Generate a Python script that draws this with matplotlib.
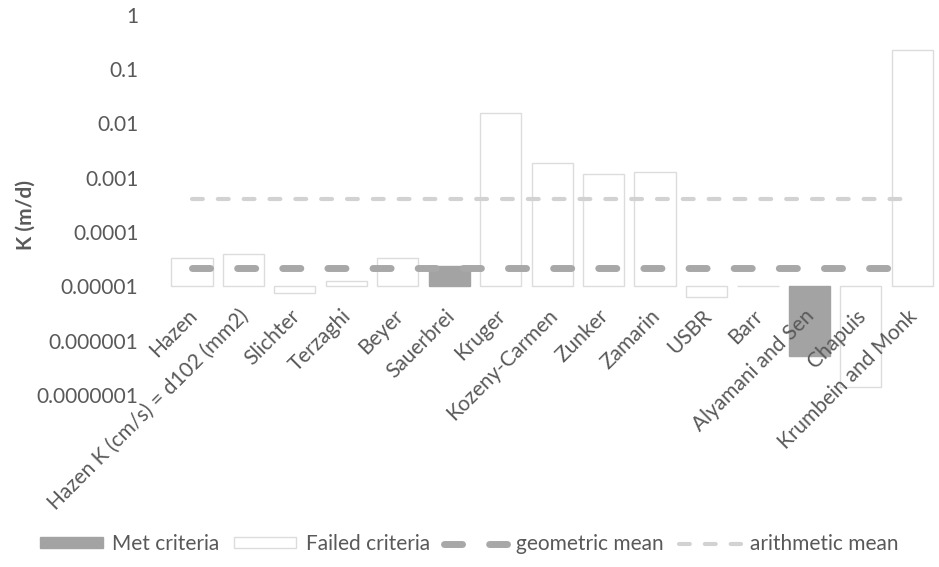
import matplotlib
matplotlib.use("Agg")
import matplotlib.pyplot as plt
import matplotlib.patches as patches
from matplotlib.lines import Line2D
import numpy as np

plt.rcParams['font.family'] = ['Lato', 'DejaVu Sans']

methods = ["Hazen", "Hazen K (cm/s) = d102 (mm2)", "Slichter", "Terzaghi", "Beyer",
           "Sauerbrei", "Kruger", "Kozeny-Carmen", "Zunker", "Zamarin", "USBR", "Barr",
           "Alyamani and Sen", "Chapuis", "Krumbein and Monk"]
k_values = [3.4e-5, 4.0e-5, 7.6e-6, 1.26e-5, 3.4e-5, 2.4e-5, 0.0158, 0.00188,
            0.00118, 0.00129, 6.4e-6, 1.0e-5, 5.2e-7, 1.4e-7, 0.22]
met = [False, False, False, False, False, True, False, False,
       False, False, False, False, True, False, False]
geo_mean = 2.2e-5
arith_mean = 4.1e-4
base = 1e-5

tick_vals = [1e-7, 1e-6, 1e-5, 1e-4, 1e-3, 1e-2, 1e-1, 1]
tick_labels = ["0.0000001", "0.000001", "0.00001", "0.0001", "0.001", "0.01", "0.1", "1"]

txt = "#595959"
met_col = "#a3a3a3"
fail_edge = "#dcdcdc"
fs = 15

fig = plt.figure(figsize=(9.39, 5.67), dpi=100)
ax = fig.add_axes([0.177, 0.303, 0.822, 0.671])

x = np.arange(len(methods))
heights = [v - base for v in k_values]
colors = [met_col if m else "white" for m in met]
edges = [met_col if m else fail_edge for m in met]
ax.bar(x, heights, bottom=base, width=0.8, color=colors, edgecolor=edges, linewidth=1.0, zorder=2)

ax.plot(x, [geo_mean] * len(x), color="#a8a8a8", lw=5, dashes=(2.6, 3.9),
        dash_capstyle='round', zorder=3)
ax.plot(x, [arith_mean] * len(x), color="#d2d2d2", lw=3, dashes=(2.6, 3.6),
        dash_capstyle='round', zorder=3)

ax.set_yscale('log')
ax.set_ylim(1e-7, 1)
ax.set_xlim(-0.5, len(methods) - 0.5)
ax.set_yticks(tick_vals)
ax.set_yticklabels(tick_labels, fontsize=fs, color=txt)
ax.minorticks_off()
ax.tick_params(axis='y', length=0, pad=20)
ax.set_xticks([])

# category labels hang off the 0.00001 crossing
for i, name in enumerate(methods):
    ax.text(i - 0.1, 4.4e-6, name, rotation=45, ha='right', va='top',
            rotation_mode='anchor', fontsize=fs, color=txt)

for s in ax.spines.values():
    s.set_visible(False)

fig.text(0.027, 0.62, "K (m/d)", rotation=90, fontsize=fs, fontweight='bold',
         color=txt, ha='center', va='center')

handles = [
    patches.Patch(facecolor=met_col, edgecolor=met_col, label="Met criteria"),
    patches.Patch(facecolor="white", edgecolor=fail_edge, label="Failed criteria"),
    Line2D([0], [0], color="#a8a8a8", lw=5, dashes=(2.6, 3.9), dash_capstyle='round',
           label="geometric mean"),
    Line2D([0], [0], color="#d2d2d2", lw=3, dashes=(2.6, 3.6), dash_capstyle='round',
           label="arithmetic mean"),
]
leg = fig.legend(handles=handles, loc='center', bbox_to_anchor=(0.50, 0.04), ncol=4,
                 frameon=False, fontsize=fs, handlelength=3.0, handleheight=0.45,
                 handletextpad=0.45, columnspacing=0.7, borderaxespad=0)
for t in leg.get_texts():
    t.set_color(txt)

fig.savefig("out.png", dpi=100)
